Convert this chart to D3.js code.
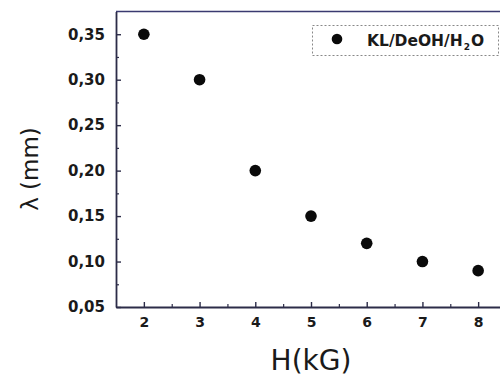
<!DOCTYPE html>
<html><head><meta charset="utf-8">
<script src="https://cdn.jsdelivr.net/npm/d3@7"></script>
<style>html,body{margin:0;padding:0;background:#fff;}svg{display:block;}</style>
</head><body>
<svg id="c" width="500" height="382"></svg>
<script>
const fieldH = [2, 3, 4, 5, 6, 7, 8];
const lambdaMM = [0.35, 0.30, 0.20, 0.15, 0.12, 0.10, 0.09];
const yTicks = [0.05, 0.10, 0.15, 0.20, 0.25, 0.30, 0.35];
const yMinor = [0.075, 0.125, 0.175, 0.225, 0.275, 0.325];
const xTicks = [2, 3, 4, 5, 6, 7, 8];
const xMinor = [2.5, 3.5, 4.5, 5.5, 6.5, 7.5];
const seriesName = "KL/DeOH/H";

const svg = d3.select("#c");
const axisColor = "#2c2c48";
const loc = d3.formatLocale({decimal: ",", thousands: ".", grouping: [3], currency: ["", ""]});
const fmt = loc.format(".2f");

const x = d3.scaleLinear().domain([1.5, 8.5]).range([116, 506]);
const y = d3.scaleLinear().domain([0.05, 0.375]).range([307, 11.5]);

// frame top
svg.append("line").attr("x1", x(1.5)).attr("x2", x(8.5)).attr("y1", y(0.375)).attr("y2", y(0.375))
  .attr("stroke", "#3a3a70").attr("stroke-width", 1.6);
svg.append("line").attr("x1", x(8.5)).attr("x2", x(8.5)).attr("y1", y(0.375)).attr("y2", y(0.05))
  .attr("stroke", axisColor).attr("stroke-width", 1.6);

// y axis
const gy = svg.append("g").attr("transform", `translate(${x(1.5)},0)`)
  .call(d3.axisLeft(y).tickValues(yTicks).tickFormat(fmt).tickSizeInner(-5).tickSizeOuter(0).tickPadding(11));
gy.selectAll(".tick line").attr("stroke", axisColor).attr("stroke-width", 1.4);
gy.select(".domain").attr("stroke", axisColor).attr("stroke-width", 1.8);
gy.selectAll(".tick text").attr("font-family", "DejaVu Sans").attr("font-weight", "bold")
  .attr("font-size", 15).attr("fill", "#1a1a1a");
svg.append("g").attr("transform", `translate(${x(1.5)},0)`)
  .call(d3.axisLeft(y).tickValues(yMinor).tickFormat("").tickSizeInner(-3).tickSizeOuter(0))
  .call(g => g.select(".domain").remove())
  .selectAll(".tick line").attr("stroke", axisColor).attr("stroke-width", 1.2);

// x axis
const gx = svg.append("g").attr("transform", `translate(0,${y(0.05)})`)
  .call(d3.axisBottom(x).tickValues(xTicks).tickFormat(d3.format("d")).tickSizeInner(-5).tickSizeOuter(0).tickPadding(10));
gx.selectAll(".tick line").attr("stroke", axisColor).attr("stroke-width", 1.4);
gx.select(".domain").attr("stroke", axisColor).attr("stroke-width", 1.8);
gx.selectAll(".tick text").attr("font-family", "DejaVu Sans").attr("font-weight", "bold")
  .attr("font-size", 14).attr("fill", "#1a1a1a");
svg.append("g").attr("transform", `translate(0,${y(0.05)})`)
  .call(d3.axisBottom(x).tickValues(xMinor).tickFormat("").tickSizeInner(-3).tickSizeOuter(0))
  .call(g => g.select(".domain").remove())
  .selectAll(".tick line").attr("stroke", axisColor).attr("stroke-width", 1.2);

// points
svg.append("g").selectAll("circle").data(fieldH).join("circle")
  .attr("cx", d => x(d)).attr("cy", (d, i) => y(lambdaMM[i])).attr("r", 5.8).attr("fill", "#0a0a0a");

// legend
const lg = svg.append("g");
lg.append("rect").attr("x", 312.5).attr("y", 25.5).attr("width", 186).attr("height", 30)
  .attr("fill", "none").attr("stroke", "#888").attr("stroke-width", 1).attr("stroke-dasharray", "2,2");
lg.append("circle").attr("cx", 337).attr("cy", 39).attr("r", 5.3).attr("fill", "#0a0a0a");
const lt = lg.append("text").attr("x", 367).attr("y", 45.5).attr("font-family", "DejaVu Sans")
  .attr("font-weight", "bold").attr("font-size", 15.5).attr("fill", "#1a1a1a");
lt.append("tspan").text(seriesName);
lt.append("tspan").attr("font-size", 9).attr("dy", 4).attr("dx", 1).text("2");
lt.append("tspan").attr("dy", -4).attr("dx", 1).text("O");

// axis titles
svg.append("text").attr("x", 311).attr("y", 370).attr("text-anchor", "middle")
  .attr("font-family", "DejaVu Sans").attr("font-size", 28).attr("fill", "#1a1a1a").text("H(kG)");
svg.append("text").attr("transform", "translate(38,169) rotate(-90)").attr("text-anchor", "middle")
  .attr("font-family", "DejaVu Sans").attr("font-size", 23).attr("fill", "#1a1a1a").text("λ (mm)");
</script>
</body></html>
